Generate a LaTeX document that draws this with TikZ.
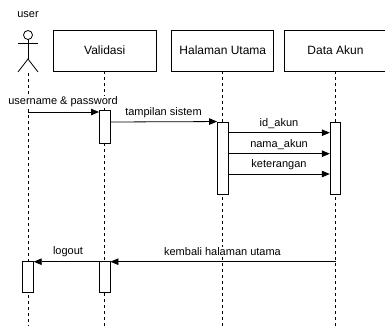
\documentclass[tikz,border=0pt]{standalone}
\usepackage{fontspec}
\setmainfont{Liberation Sans}
\usetikzlibrary{arrows.meta}
\begin{document}
\begin{tikzpicture}[x=1pt,y=-1pt,
  headbox/.style={draw, line width=0.9pt, minimum height=41pt, inner sep=0pt, font=\fontsize{12}{14}\selectfont, fill=white},
  actbox/.style={draw, line width=0.9pt, fill=white, minimum width=10.5pt, inner sep=0pt},
  life/.style={line width=0.8pt, dash pattern=on 3pt off 3pt},
  msg/.style={line width=0.8pt, -{Triangle[length=8pt,width=6.5pt]}},
  lbl/.style={font=\fontsize{11}{13}\selectfont, inner sep=1pt, fill=white},
  stick/.style={line width=0.8pt}]
\useasboundingbox (0,0) rectangle (385,326);
% actor
\node[lbl] (user) at (28,15) {user};
\draw[stick] (28,35) circle (4.5);
\draw[stick] (18,43) -- (38,43);
\draw[stick] (28,39.5) -- (28,59);
\draw[stick] (18,72) -- (28,59) -- (38,72);
% heads
\node[headbox, minimum width=103pt] (val) at (104.7,50.5) {Validasi};
\node[headbox, minimum width=102pt] (hal) at (222.8,50.5) {Halaman Utama};
\node[headbox, minimum width=103pt] (dat) at (335.5,50.5) {Data Akun};
% lifeline ends
\coordinate (usertop) at (28,73);
\coordinate (userbot) at (28,326);
\coordinate (valbot) at (104.7,326);
\coordinate (halbot) at (222.8,326);
\coordinate (datbot) at (335.5,326);
\draw[life] (usertop) -- (userbot);
\draw[life] (val.south) -- (valbot);
\draw[life] (hal.south) -- (halbot);
\draw[life] (dat.south) -- (datbot);
% activations
\node[actbox, minimum height=33pt] (va1) at (104.7,126.5) {};
\node[actbox, minimum height=72pt] (ha1) at (222.8,158) {};
\node[actbox, minimum height=72pt] (da1) at (335.5,158) {};
\node[actbox, minimum height=31pt] (ua1) at (28,276.5) {};
\node[actbox, minimum height=31pt] (va2) at (104.7,276.5) {};
% messages
\coordinate (m1) at (28,112);
\draw[msg] (m1) -- (va1.west |- m1);
\node[lbl] (l1) at (63,102) {username \& password};
\coordinate (m2) at (110,122);
\draw[msg] (va1.east |- m2) -- (ha1.north west);
\node[lbl] (l2) at (163.5,113) {tampilan sistem};
\coordinate (m3) at (228,132.7);
\draw[msg] (ha1.east |- m3) -- (da1.west |- m3);
\node[lbl] (l3) at (279,124) {id\_akun};
\coordinate (m4) at (228,153.7);
\draw[msg] (ha1.east |- m4) -- (da1.west |- m4);
\node[lbl] (l4) at (279,145) {nama\_akun};
\coordinate (m5) at (228,174);
\draw[msg] (ha1.east |- m5) -- (da1.west |- m5);
\node[lbl] (l5) at (279,165) {keterangan};
\coordinate (m6) at (335.5,261.7);
\draw[msg] (m6) -- (va2.east |- m6);
\node[lbl] (l6) at (222.5,252) {kembali halaman utama};
\draw[msg] (va2.west |- m6) -- (ua1.east |- m6);
\node[lbl] (l7) at (68,252) {logout};
\end{tikzpicture}
\end{document}
